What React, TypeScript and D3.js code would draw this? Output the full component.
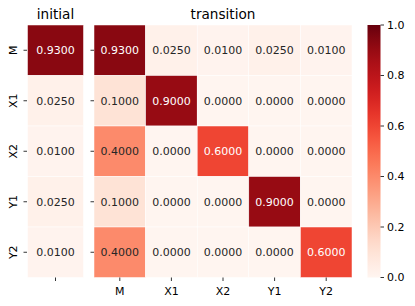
import React from "react";
import * as d3 from "d3";

const rows = ["M", "X1", "X2", "Y1", "Y2"];
const cols = ["M", "X1", "X2", "Y1", "Y2"];
const initialValues = [0.93, 0.025, 0.01, 0.025, 0.01];
const transitionValues = [
  [0.93, 0.025, 0.01, 0.025, 0.01],
  [0.1, 0.9, 0.0, 0.0, 0.0],
  [0.4, 0.0, 0.6, 0.0, 0.0],
  [0.1, 0.0, 0.0, 0.9, 0.0],
  [0.4, 0.0, 0.0, 0.0, 0.6],
];
const colorbarTicks = [0, 0.2, 0.4, 0.6, 0.8, 1.0];

const font = "DejaVu Sans, sans-serif";
const fs = 11;
const titleFs = 13.6;

export default function App() {
  const W = 415, H = 306;
  const top = 25, bottom = 277.5;
  const y = d3.scaleBand<string>().domain(rows).range([top, bottom]);
  const xi = d3.scaleBand<string>().domain([""]).range([27.5, 83.5]);
  const xt = d3.scaleBand<string>().domain(cols).range([94, 352]);
  const color = (v: number) => d3.interpolateReds(v);
  const cb = d3.scaleLinear().domain([0, 1]).range([bottom, top]);
  const textColor = (v: number) => {
    const c = d3.rgb(color(v));
    const lum = (0.299 * c.r + 0.587 * c.g + 0.114 * c.b) / 255;
    return lum < 0.55 ? "#ffffff" : "#262626";
  };
  const gradId = "cbgrad";
  const stops = d3.range(0, 1.0001, 0.05);

  return (
    <svg width={W} height={H} style={{ position: "absolute", left: 0, top: 0 }} fontFamily={font}>
      <rect width={W} height={H} fill="#fff" />
      {/* initial panel */}
      {rows.map((r, i) => (
        <g key={"i" + r}>
          <rect x={xi("")!} y={y(r)!} width={xi.bandwidth()} height={y.bandwidth()}
            fill={color(initialValues[i])} stroke="#fff" strokeWidth={0.5} />
          <text x={xi("")! + xi.bandwidth() / 2} y={y(r)! + y.bandwidth() / 2} dy="0.35em"
            textAnchor="middle" fontSize={fs} fill={textColor(initialValues[i])}>
            {initialValues[i].toFixed(4)}
          </text>
        </g>
      ))}
      {/* transition panel */}
      {rows.map((r, i) =>
        cols.map((c, j) => (
          <g key={"t" + r + c}>
            <rect x={xt(c)!} y={y(r)!} width={xt.bandwidth()} height={y.bandwidth()}
              fill={color(transitionValues[i][j])} stroke="#fff" strokeWidth={0.5} />
            <text x={xt(c)! + xt.bandwidth() / 2} y={y(r)! + y.bandwidth() / 2} dy="0.35em"
              textAnchor="middle" fontSize={fs} fill={textColor(transitionValues[i][j])}>
              {transitionValues[i][j].toFixed(4)}
            </text>
          </g>
        ))
      )}
      {/* y ticks and labels */}
      {rows.map((r) => {
        const cy = y(r)! + y.bandwidth() / 2;
        return (
          <g key={"yl" + r}>
            <line x1={23.5} x2={27} y1={cy} y2={cy} stroke="#000" strokeWidth={0.8} />
            <line x1={90.5} x2={94} y1={cy} y2={cy} stroke="#000" strokeWidth={0.8} />
            <text transform={`translate(17,${cy}) rotate(-90)`} textAnchor="middle" fontSize={fs} fill="#000">
              {r}
            </text>
          </g>
        );
      })}
      {/* x ticks */}
      <line x1={xi("")! + xi.bandwidth() / 2} x2={xi("")! + xi.bandwidth() / 2} y1={bottom} y2={bottom + 3.5}
        stroke="#000" strokeWidth={0.8} />
      {cols.map((c) => {
        const cx = xt(c)! + xt.bandwidth() / 2;
        return (
          <g key={"xl" + c}>
            <line x1={cx} x2={cx} y1={bottom} y2={bottom + 3.5} stroke="#000" strokeWidth={0.8} />
            <text x={cx} y={bottom + 17.5} textAnchor="middle" fontSize={fs} fill="#000">{c}</text>
          </g>
        );
      })}
      {/* titles */}
      <text x={xi("")! + xi.bandwidth() / 2} y={18.5} textAnchor="middle" fontSize={titleFs} fill="#000">initial</text>
      <text x={(94 + 352) / 2} y={18.5} textAnchor="middle" fontSize={titleFs} fill="#000">transition</text>
      {/* colorbar */}
      <defs>
        <linearGradient id={gradId} x1="0" y1="1" x2="0" y2="0">
          {stops.map((s) => (
            <stop key={s} offset={s} stopColor={color(s)} />
          ))}
        </linearGradient>
      </defs>
      <rect x={367.5} y={top} width={13} height={bottom - top} fill={`url(#${gradId})`} />
      {colorbarTicks.map((t) => (
        <g key={"cb" + t}>
          <line x1={380.5} x2={384} y1={cb(t)} y2={cb(t)} stroke="#000" strokeWidth={0.8} />
          <text x={387} y={cb(t)} dy="0.35em" fontSize={fs} fill="#000">{t.toFixed(1)}</text>
        </g>
      ))}
    </svg>
  );
}
